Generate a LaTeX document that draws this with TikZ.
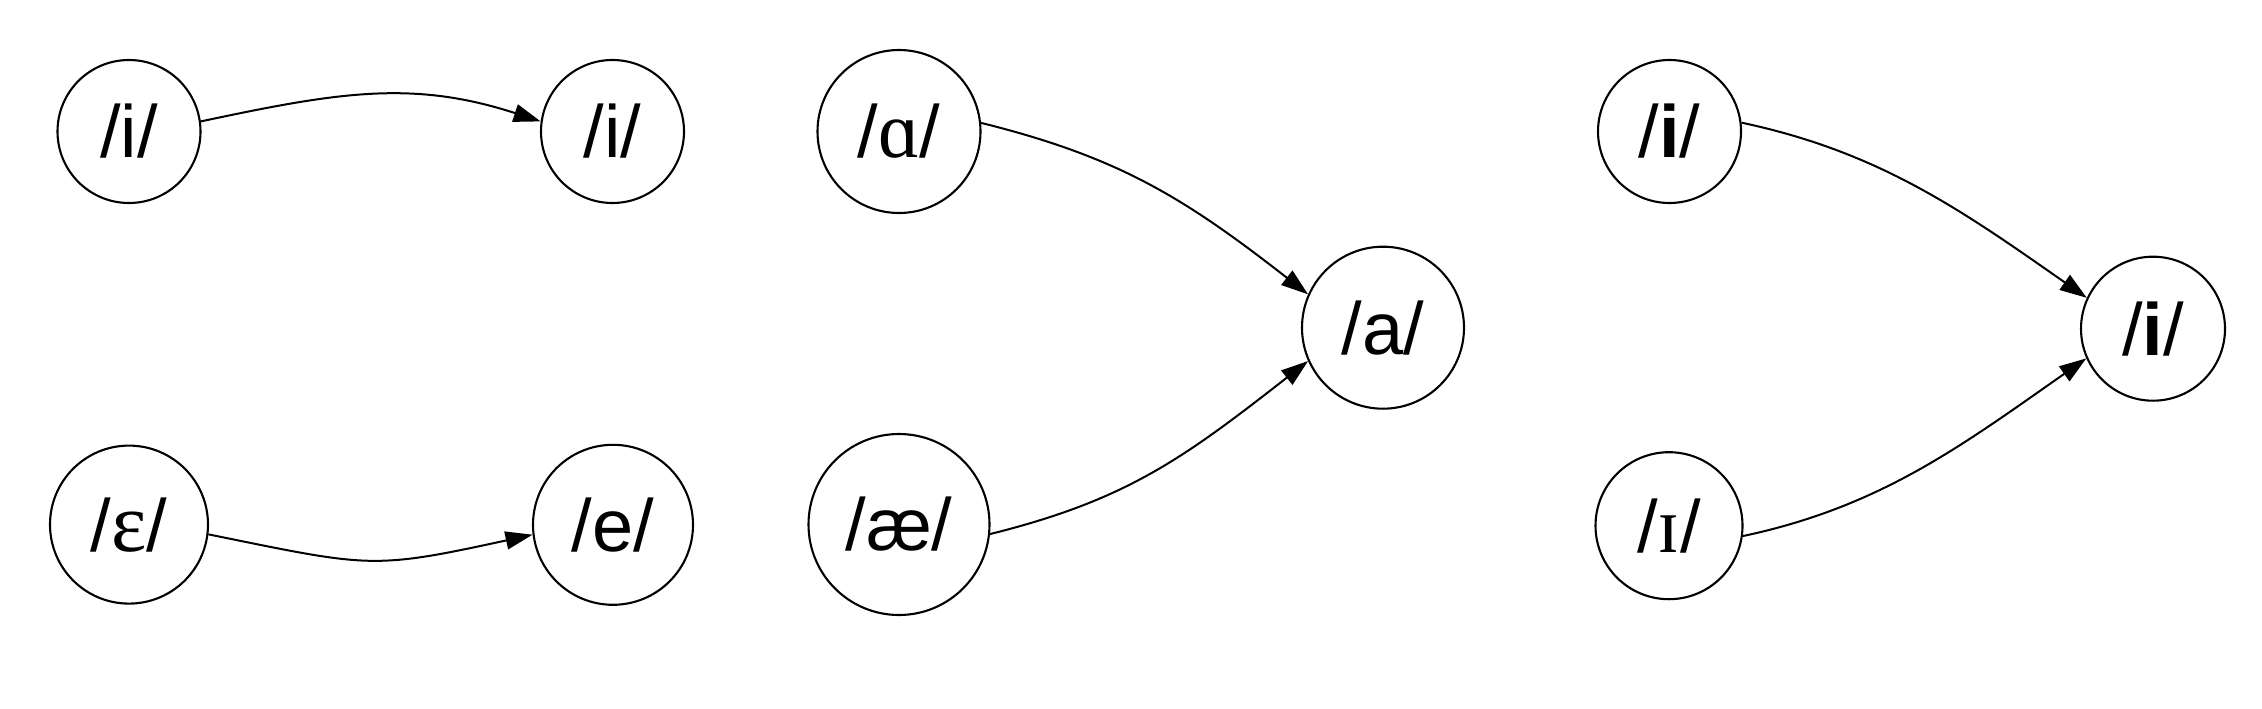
\documentclass[tikz,border=0pt]{standalone}
\usepackage{fontspec}
\setmainfont{Liberation Sans}
\newfontfamily\ipaserif{Liberation Serif}
\usetikzlibrary{arrows.meta}
\tikzset{
  vowel/.style={circle, draw=black, line width=2.1pt, inner sep=0pt, minimum size=#1,
    font=\fontsize{74}{80}\selectfont},
  vowel/.default=143pt,
  soundshift/.style={draw=black, line width=2pt, -{Triangle[length=27pt,width=18pt]}}
}
\begin{document}
\begin{tikzpicture}[x=1pt,y=-1pt]
\useasboundingbox[fill=white] (0,0) rectangle (2262,709);
% group 1
\node[vowel=143pt] (i1) at (129,131.5) {/i/};
\node[vowel=143pt] (i2) at (612.5,131.5) {/i/};
\node[vowel=158pt] (eps) at (129,524.6) {/{\ipaserif\fontsize{84}{90}\selectfont ɛ}/};
\node[vowel=160pt] (e) at (613,524.8) {/e/};
% group 2
\node[vowel=163pt] (alpha) at (899,131.5) {/{\ipaserif\fontsize{80}{90}\selectfont ɑ}/};
\node[vowel=181pt] (ae) at (899,524.5) {/æ/};
\node[vowel=162pt] (a) at (1383,327.7) {/a/};
% group 3
\node[vowel=143pt] (i3) at (1669.5,131.5) {/\textbf{i}/};
\node[vowel=147pt] (small) at (1669,525.7) {/{\ipaserif\fontsize{80}{90}\selectfont ɪ}/};
\node[vowel=144pt] (i4) at (2153,328.7) {/\textbf{i}/};
% connectors (y axis points down, so polar angles are mirrored)
\draw[soundshift] (i1.8) .. controls +(-12:140) and +(-162:135) .. (i2.172);
\draw[soundshift] (eps.-7) .. controls +(11.5:165) and +(167.7:165) .. (e.-173);
\draw[soundshift] (alpha.6) .. controls +(14:140) and +(-142:160) .. (a.156);
\draw[soundshift] (ae.-6) .. controls +(-14:140) and +(142:160) .. (a.-156);
\draw[soundshift] (i3.7) .. controls +(12:140) and +(-145:155) .. (i4.155);
\draw[soundshift] (small.-8) .. controls +(-12:140) and +(145:155) .. (i4.-156);
\end{tikzpicture}
\end{document}
